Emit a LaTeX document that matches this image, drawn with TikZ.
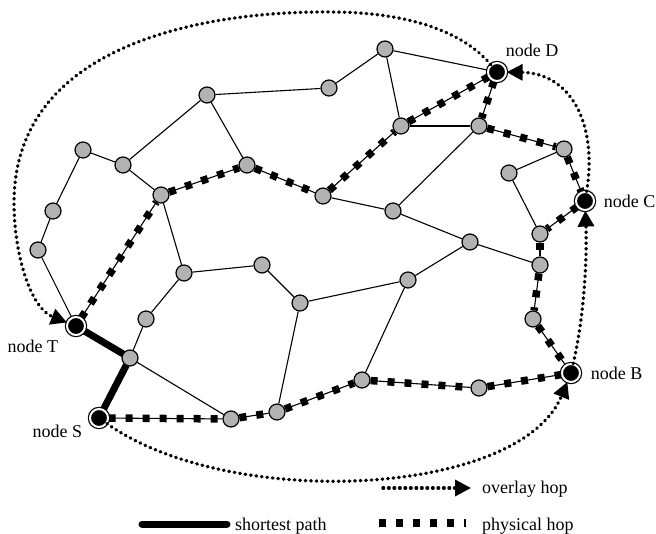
\documentclass[tikz,border=0pt]{standalone}
\usepackage{fontspec}
\setmainfont{Liberation Serif}
\usetikzlibrary{positioning,backgrounds,arrows.meta}

\begin{document}
\begin{tikzpicture}[x=1pt,y=1pt,auto]
                    \tikzstyle{every node}=[font=\fontsize{18}{21}\selectfont]
                    \tikzstyle{router}=[circle,draw,fill=gray!60,line width=1.2pt,minimum size=16pt,inner sep=0]
                    \tikzstyle{peer}=[circle,draw,fill=black,line width=1.2pt,double=white,double distance=2pt,minimum size=18pt,inner sep=0]
                    \tikzstyle{note}=[inner sep=0]
                    \tikzstyle{link}=[line width=1.1pt]
                    \tikzstyle{phys}=[line width=7.5pt,dash pattern=on 7pt off 10pt]
                    \tikzstyle{shortp}=[line width=7pt,line cap=round]
                    \tikzstyle{ovhop}=[line width=3.4pt,line cap=round,dash pattern=on 0.6pt off 4.9pt,-{Triangle[length=16pt,width=16pt]}]
                    {
                        \useasboundingbox (0,0) rectangle (656,533);

                        % overlay peers
                        \node[peer] (nS) at (99,115) {};
                        \node[peer] (nT) at (76,207) {};
                        \node[peer] (nB) at (571,160) {};
                        \node[peer] (nC) at (585,332) {};
                        \node[peer] (nD) at (497,461) {};

                        % physical routers
                        \node[router] (r1) at (385,484) {};
                        \node[router] (r2) at (329,445) {};
                        \node[router] (r3) at (207,438) {};
                        \node[router] (r4) at (83,383) {};
                        \node[router] (r5) at (123,368) {};
                        \node[router] (r6) at (247,368) {};
                        \node[router] (r7) at (161,338) {};
                        \node[router] (r8) at (323,337) {};
                        \node[router] (r9) at (53,322) {};
                        \node[router] (r10) at (38,283) {};
                        \node[router] (r11) at (401,407) {};
                        \node[router] (r12) at (479,407) {};
                        \node[router] (r13) at (564,384) {};
                        \node[router] (r14) at (509,360) {};
                        \node[router] (r15) at (393,322) {};
                        \node[router] (r16) at (540,299) {};
                        \node[router] (r17) at (470,291) {};
                        \node[router] (r18) at (540,268) {};
                        \node[router] (r19) at (533,214) {};
                        \node[router] (r21) at (408,253) {};
                        \node[router] (r22) at (184,260) {};
                        \node[router] (r23) at (262,268) {};
                        \node[router] (r24) at (300,230) {};
                        \node[router] (r25) at (146,214) {};
                        \node[router] (r26) at (130,175) {};
                        \node[router] (r27) at (231,114) {};
                        \node[router] (r28) at (277,121) {};
                        \node[router] (r29) at (362,153) {};
                        \node[router] (r30) at (479,145) {};

                        \node[note,above right=8pt and 2pt of nD] (labeld) {node D};
                        \node[note,right=9pt of nC] (labelc) {node C};
                        \node[note,right=10pt of nB] (labelb) {node B};
                        \node[note,below left=7pt and 11pt of nT] (labelt) {node T};
                        \node[note,below left=0pt and 10pt of nS] (labels) {node S};

                        \begin{scope}[on background layer]
                            \path[link]
                                (r1) edge (r2) edge (nD) edge (r11)
                                (r3) edge (r2) edge (r5) edge (r6)
                                (r4) edge (r5) edge (r9)
                                (r10) edge (r9) edge (nT)
                                (r7) edge (r5) edge (r22)
                                (r22) edge (r23) edge (r25)
                                (r26) edge (r25) edge (r27)
                                (r24) edge (r23) edge (r28) edge (r21)
                                (r21) edge (r29) edge (r17)
                                (r17) edge (r15) edge (r18)
                                (r15) edge (r8) edge (r12)
                                (r11) edge (r12)
                                (r14) edge (r13) edge (r16);

                            \path[link]
                                (nT) edge (r7) (r7) edge (r6) (r6) edge (r8) (r8) edge (r11) (r11) edge (nD)
                                (nD) edge (r12) (r12) edge (r13) (r13) edge (nC)
                                (nC) edge (r16) (r16) edge (r18) (r18) edge (r19) (r19) edge (nB)
                                (nS) edge (r27) (r27) edge (r28) (r28) edge (r29) (r29) edge (r30) (r30) edge (nB);

                            \path[phys]
                                (nT) edge (r7) (r7) edge (r6) (r6) edge (r8) (r8) edge (r11) (r11) edge (nD)
                                (nD) edge (r12) (r12) edge (r13) (r13) edge (nC)
                                (nC) edge (r16) (r16) edge (r18) (r18) edge (r19) (r19) edge (nB)
                                (nS) edge (r27) (r27) edge (r28) (r28) edge (r29) (r29) edge (r30) (r30) edge (nB);

                            \draw[shortp] (nT) -- (r26) -- (nS);
                        \end{scope}

                        % overlay route S -> B -> C -> D -> T
                        \coordinate (topd) at (330,521);
                        \coordinate (leftt) at (14,330);
                        \draw[ovhop] (nS) .. controls (230,22) and (520,36) .. (nB);
                        \draw[ovhop] (nB) .. controls (585,220) and (587,280) .. (nC);
                        \draw[ovhop] (nC) .. controls (598,410) and (570,460) .. (nD);
                        \draw[ovhop] (nD) .. controls (460,505) and (400,521) .. (topd)
                            .. controls (230,522) and (14,500) .. (leftt)
                            .. controls (14,280) and (30,225) .. (nT);

                        % legend
                        \coordinate (ov1) at (383,45);
                        \coordinate (ov2) at (471,45);
                        \coordinate (sp1) at (142,9);
                        \coordinate (sp2) at (227,9);
                        \coordinate (ph1) at (379,10);
                        \coordinate (ph2) at (465.5,10);
                        \draw[ovhop] (ov1) -- (ov2);
                        \draw[shortp] (sp1) -- (sp2);
                        \draw[line width=7.5pt,dash pattern=on 7.3pt off 9.7pt] (ph1) -- (ph2);
                        \node[note,anchor=base west] (labelov) at (482,39) {overlay hop};
                        \node[note,anchor=base west] (labelsp) at (235,3) {shortest path};
                        \node[note,anchor=base west] (labelph) at (482,3) {physical hop};
                    }
                \end{tikzpicture}
\end{document}
